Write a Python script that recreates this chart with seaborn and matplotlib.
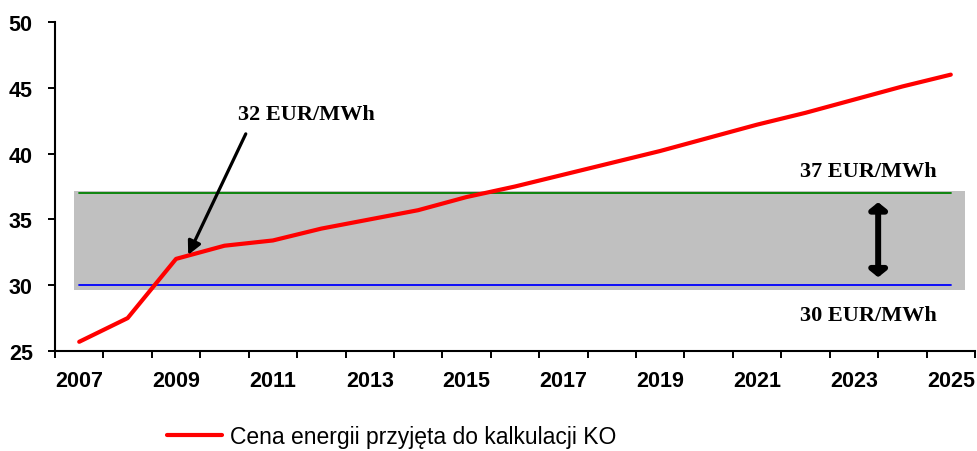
import numpy as np
import pandas as pd
import seaborn as sns
from matplotlib import pyplot as plt

years = list(range(2007, 2026))
prices = [25.7, 27.5, 32.0, 33.0, 33.4, 34.3, 35.0, 35.7, 36.7, 37.5,
          38.4, 39.3, 40.2, 41.2, 42.2, 43.1, 44.1, 45.1, 46.0]
label_years = list(range(2007, 2026, 2))
y_ticks = [25, 30, 35, 40, 45, 50]
band_low, band_high = 30, 37
series_name = "Cena energii przyjęta do kalkulacji KO"


def main():
    sns.set_style("white")
    plt.rcParams['font.family'] = ['Liberation Sans', 'DejaVu Sans']
    plt.rcParams['text.color'] = 'black'

    df = pd.DataFrame({"Rok": years, "Cena": prices})

    fig = plt.figure(figsize=(9.77, 4.52), dpi=100)
    ax = fig.add_axes([55 / 977, 100 / 452, 920 / 977, 329 / 452])

    # grey band between the two price levels
    ax.fill_between([2006.89, 2025.29], 29.62, 37.15, color="#c0c0c0", lw=0, zorder=1)
    ax.plot([years[0], years[-1]], [band_high, band_high], color="#008000", lw=1.3, zorder=2)
    ax.plot([years[0], years[-1]], [band_low, band_low], color="#0000ff", lw=1.3, zorder=2)

    sns.lineplot(data=df, x="Rok", y="Cena", color="#ff0000", lw=3,
                 label=series_name, ax=ax, zorder=3, legend=False)
    ax.lines[-1].set_solid_capstyle("round")

    ax.set_xlim(2006.5, 2025.5)
    ax.set_ylim(25, 50)
    ax.set_xlabel("")
    ax.set_ylabel("")

    # tick marks between categories, labels in the middle
    ax.set_xticks(np.arange(2006.5, 2026, 1))
    ax.set_xticklabels([])
    ax.set_xticks(label_years, minor=True)
    ax.set_xticklabels([str(y) for y in label_years], minor=True,
                       fontsize=15.5, fontweight="bold")
    ax.tick_params(axis="x", which="major", direction="out", length=5, width=1.4,
                   bottom=True, color="black")
    ax.tick_params(axis="x", which="minor", length=0, pad=14, labelcolor="black")
    ax.set_yticks(y_ticks)
    ax.set_yticklabels([str(v) for v in y_ticks], fontsize=15.5, fontweight="bold")
    ax.tick_params(axis="y", direction="out", length=5, width=1.4, left=True,
                   color="black", labelcolor="black", pad=11)

    for side in ["top", "right"]:
        ax.spines[side].set_visible(False)
    for side in ["left", "bottom"]:
        ax.spines[side].set_color("black")
        ax.spines[side].set_linewidth(1.5)

    serif = dict(family=["Liberation Serif", "DejaVu Serif"], fontweight="bold",
                 fontsize=16, color="black", ha="center", va="center")
    ax.text(2011.7, 43.0, "32 EUR/MWh", **serif)
    ax.text(2023.29, 38.66, "37 EUR/MWh", **serif)
    ax.text(2023.29, 27.72, "30 EUR/MWh", **serif)

    ax.annotate("", xy=(2009.25, 32.3), xytext=(2010.44, 41.5),
                arrowprops=dict(arrowstyle="-|>,head_length=0.8,head_width=0.4",
                                color="black", lw=2.3, shrinkA=0, shrinkB=0), zorder=4)
    ax.annotate("", xy=(2023.5, 36.3), xytext=(2023.5, 30.6),
                arrowprops=dict(arrowstyle="<|-|>,head_length=0.4,head_width=0.5",
                                color="black", lw=4.3, shrinkA=0, shrinkB=0), zorder=4)

    handles, labels = ax.get_legend_handles_labels()
    fig.legend(handles, labels, loc="center", bbox_to_anchor=(392 / 977, 1 - 438 / 452),
               frameon=False, fontsize=16.5, handlelength=2.4, handletextpad=0.35,
               labelcolor="black", borderpad=0.2)

    fig.savefig("out.png", dpi=100)


if __name__ == "__main__":
    main()
